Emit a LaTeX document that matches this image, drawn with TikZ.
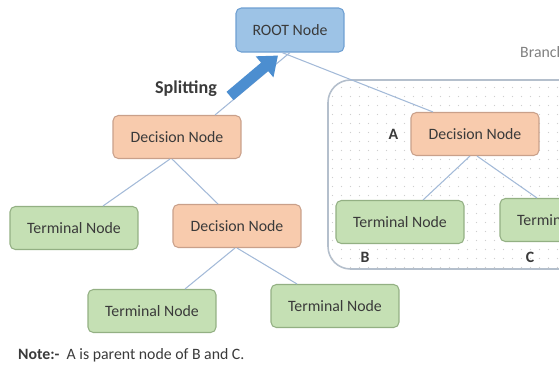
\documentclass[tikz,border=0pt]{standalone}
\usepackage{fontspec}
\setmainfont{Carlito}
\usetikzlibrary{positioning,calc,arrows.meta,patterns.meta}

\definecolor{rootfill}{HTML}{9DC3E6}
\definecolor{rootline}{HTML}{6E9FD2}
\definecolor{decfill}{HTML}{F8CBAD}
\definecolor{decline}{HTML}{C9A08A}
\definecolor{termfill}{HTML}{C5E0B4}
\definecolor{termline}{HTML}{93B083}
\definecolor{edgeblue}{HTML}{A3BAD8}
\definecolor{splitblue}{HTML}{4C8ED0}
\definecolor{boxline}{HTML}{B4BFCC}
\definecolor{dotgray}{HTML}{CFCFCF}
\definecolor{inktext}{HTML}{3A3A3A}

\tikzset{
  treenode/.style={
    rectangle, rounded corners=3pt, minimum width=2.56cm, minimum height=0.86cm,
    text centered, font=\fontsize{9}{11}\selectfont, text=inktext, line width=0.6pt},
  rootnode/.style={treenode, minimum width=2.16cm, minimum height=0.88cm, draw=rootline, fill=rootfill},
  decision/.style={treenode, draw=decline, fill=decfill},
  terminal/.style={treenode, draw=termline, fill=termfill},
  branchline/.style={draw=edgeblue, line width=0.6pt},
  splitarrow/.style={draw=splitblue, line width=6.2pt, -{Triangle[length=10pt, width=15pt]}},
  letter/.style={font=\bfseries\fontsize{9}{11}\selectfont, text=inktext},
}

\begin{document}
\begin{tikzpicture}[x=0.02cm, y=-0.02cm]
\useasboundingbox (0,0) rectangle (559,366);
\clip (0,0) rectangle (559,366);

% sub-tree area, dotted
\draw[draw=boxline, line width=0.9pt, fill=white, rounded corners=0.45cm,
      postaction={pattern={Dots[distance=0.18cm, radius=0.35pt]}, pattern color=dotgray}]
    (660,80) -- (328,80) -- (328,269) -- (660,269);

\node (branch) [anchor=west, font=\fontsize{9}{11}\selectfont, text=gray] at (514,52) {Branch};

% tree nodes
\node (root) [rootnode] at (290,30) {ROOT Node};
\node (dec1) [decision] at (177,137) {Decision Node};
\node (decA) [decision] at (475,134) {Decision Node};
\node (term1) [terminal] at (74,228) {Terminal Node};
\node (dec2) [decision] at (237,226) {Decision Node};
\node (termB) [terminal] at (400,222) {Terminal Node};
\node (termC) [terminal] at (564,220) {Terminal Node};
\node (term2) [terminal] at (152,311) {Terminal Node};
\node (term3) [terminal] at (335,306) {Terminal Node};

\node (labA) [letter, left=0.12cm of decA] {A};
\node (labB) [letter] at (365,257) {B};
\node (labC) [letter] at (530,257) {C};

% branches
\draw[branchline] (root.south) -- ($(dec1.north)+(38,0)$);
\draw[branchline] ($(root.south)+(-8,0)$) -- ($(decA.north)+(-42,0)$);
\draw[branchline] ($(dec1.south)+(-7,0)$) -- ($(term1.north)+(29,0)$);
\draw[branchline] ($(dec1.south)+(-5,0)$) -- ($(dec2.north)+(-19,0)$);
\draw[branchline] ($(decA.south)+(-5,0)$) -- ($(termB.north)+(23,0)$);
\draw[branchline] ($(decA.south)+(2,0)$) -- ($(termC.north)+(-27,0)$);
\draw[branchline] ($(dec2.south)+(-2,0)$) -- ($(term2.north)+(33,0)$);
\draw[branchline] (dec2.south) -- ($(term3.north)+(-38,0)$);

% splitting arrow
\node (split) [font=\bfseries\fontsize{10.3}{12}\selectfont, text=inktext] at (186,89) {Splitting};
\draw[splitarrow] ($(split.east)+(7,7)$) -- ($(root.south)+(-12,3)$);

\node (note) [anchor=west, font=\fontsize{9}{11}\selectfont, text=inktext] at (12,355)
    {\textbf{Note:-}~ A is parent node of B and C.};
\end{tikzpicture}
\end{document}
